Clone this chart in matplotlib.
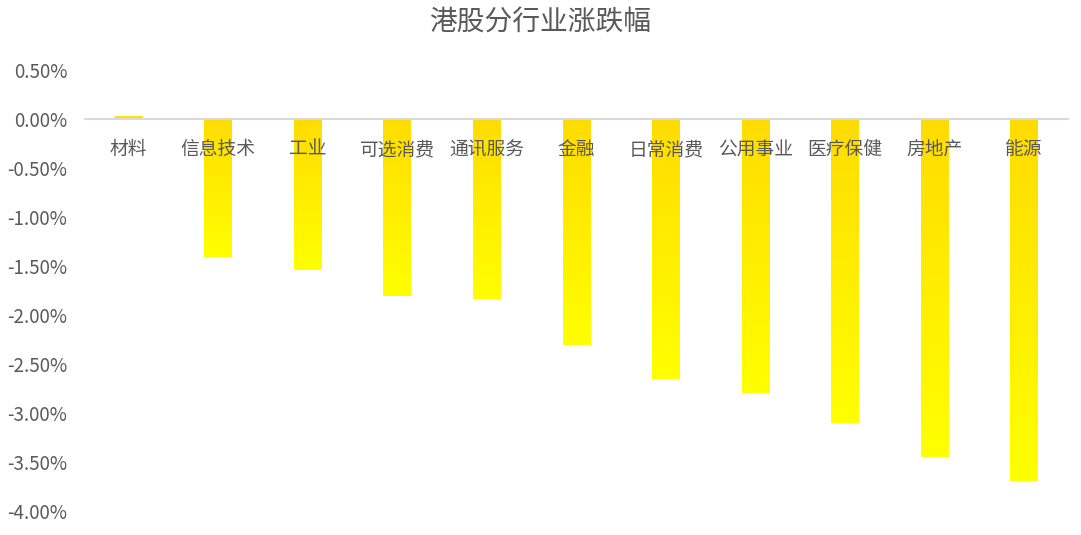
import numpy as np
import matplotlib.pyplot as plt
from matplotlib.colors import LinearSegmentedColormap
from matplotlib.ticker import FuncFormatter

plt.rcParams['font.family'] = ['Noto Sans CJK SC', 'DejaVu Sans']

# ---- data ----
sectors = ['材料', '信息技术', '工业', '可选消费', '通讯服务', '金融',
           '日常消费', '公用事业', '医疗保健', '房地产', '能源']
change = [0.03, -1.41, -1.54, -1.81, -1.84, -2.31,
          -2.65, -2.80, -3.10, -3.45, -3.69]
yticks = [0.5, 0.0, -0.5, -1.0, -1.5, -2.0, -2.5, -3.0, -3.5, -4.0]

fig = plt.figure(figsize=(10.81, 5.35), dpi=100)
ax = fig.add_axes([0.0777, 0.045, 0.911, 0.824])

x = np.arange(len(sectors))
w = 0.31
cmap = LinearSegmentedColormap.from_list('gold', ['#FFDC00', '#FFFF00'])
grad = np.linspace(0, 1, 256).reshape(-1, 1)

bars = ax.bar(x, change, width=w, color='none', edgecolor='none')
for b, v in zip(bars, change):
    x0 = b.get_x()
    if v < 0:
        ext = (x0, x0 + w, v, 0)  # top (0) gold, bottom bright yellow
        ax.imshow(grad, cmap=cmap, extent=ext, origin='upper',
                  aspect='auto', zorder=2)
    else:
        ax.bar(x0 + w / 2, v, width=w, color='#FFE400', zorder=2)

ax.axhline(0, color='#D9D9D9', lw=1.5, zorder=3)

for xi, name in zip(x, sectors):
    ax.text(xi, -0.31, name, ha='center', va='center', fontsize=13.5,
            color='#595959', zorder=4)

ax.set_xlim(-0.5, len(sectors) - 0.5)
ax.set_ylim(-4.0, 0.5)
ax.set_yticks(yticks)
ax.yaxis.set_major_formatter(FuncFormatter(lambda v, p: f'{v:.2f}%'))
ax.tick_params(axis='y', length=0, labelsize=13.5, labelcolor='#595959', pad=12)
ax.set_xticks([])
for s in ax.spines.values():
    s.set_visible(False)

fig.suptitle('港股分行业涨跌幅', fontsize=20, color='#595959', y=0.985)

fig.savefig('out.png', dpi=100)
